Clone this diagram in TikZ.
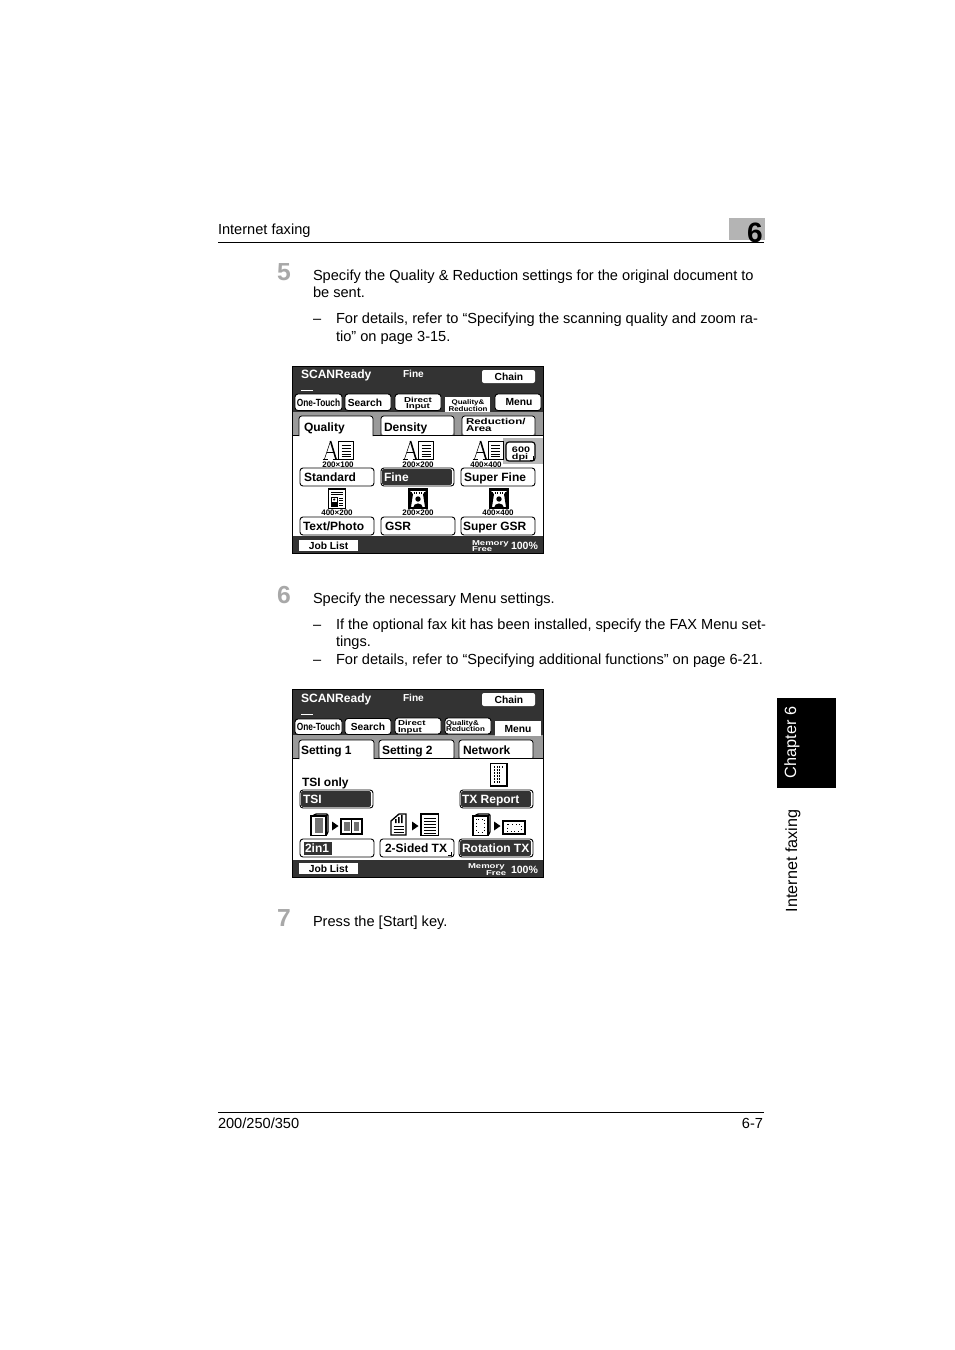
\documentclass[tikz,border=0pt]{standalone}
\usepackage{fontspec}
\usepackage{graphicx}
\setmainfont{Liberation Sans}
\definecolor{panel}{HTML}{333333}
\definecolor{strip}{HTML}{9A9A9A}
\definecolor{numgray}{HTML}{A8A8A8}
\definecolor{tabgray}{HTML}{B4B4B4}
\tikzset{
  txt/.style={anchor=base west,inner sep=0pt,outer sep=0pt},
  txtc/.style={anchor=base,inner sep=0pt,outer sep=0pt},
  txte/.style={anchor=base east,inner sep=0pt,outer sep=0pt},
  btn/.style={draw=black,line width=.7pt,fill=white,rounded corners=2.2pt},
  ico/.style={draw=black,line width=.6pt,fill=white},
  icot/.style={draw=black,line width=1pt,fill=white}
}
% px sized fonts (1 px = .75 pt)
\newcommand\body[1]{\fontsize{10.95}{12}\selectfont #1}
\newcommand\ui[1]{\fontsize{9}{10}\selectfont\bfseries #1}
\newcommand\uis[1]{\fontsize{7.7}{8}\selectfont\bfseries #1}
\newcommand\wide[2]{\fontsize{#1}{#1}\selectfont\bfseries\scalebox{1.35}[1]{#2}}
\newcommand\res[1]{\fontsize{6}{6}\selectfont\bfseries #1}
% dark button: black outline, light gap, dark face
\newcommand\dkbtn[4]{%
  \draw[btn] (#1,#2) rectangle (#3,#4);
  \fill[panel,rounded corners=1pt] (#1+1.2,#2+1.2) rectangle (#3-2.2,#4-1.2);
}
% icons
\newcommand\Aicon[3]{% x of A, x of doc, top y
  \draw[black,line width=.45pt] (#1+1,#3+19) -- (#1+7,#3+1);
  \draw[black,line width=1.2pt] (#1+7,#3+1) -- (#1+12.5,#3+19);
  \draw[black,line width=.45pt] (#1+3.5,#3+12) -- (#1+10.5,#3+12);
  \draw[black,line width=.6pt] (#1-1,#3+19.5) -- (#1+4,#3+19.5) (#1+9,#3+19.5) -- (#1+14.5,#3+19.5);
  \draw[ico] (#2,#3+1) rectangle (#2+15,#3+19);
  \fill[black] (#2,#3+.5) rectangle (#2+15,#3+2.2);
  \foreach \k in {5,8,11,14,16.5}{\draw[black,line width=.5pt] (#2+3,#3+\k) -- (#2+12,#3+\k);}
}
\newcommand\photo[2]{% x, top y
  \draw[icot] (#1,#2) rectangle (#1+18,#2+19);
  \fill[black] (#1,#2) rectangle (#1+18,#2+2);
  \fill[black] (#1+1,#2+2) -- (#1+4,#2+5) -- (#1+2,#2+18) -- (#1+1,#2+18) -- cycle;
  \fill[black] (#1+17,#2+2) -- (#1+14,#2+5) -- (#1+16,#2+18) -- (#1+17,#2+18) -- cycle;
  \draw[black,line width=.9pt,densely dotted] (#1+2,#2+4) -- (#1+16,#2+4);
  \fill[black] (#1+9,#2+10) circle (2.7);
  \fill[black] (#1+4,#2+19) .. controls (#1+4,#2+12.5) and (#1+14,#2+12.5) .. (#1+14,#2+19) -- cycle;
}
\newcommand\arr[2]{\fill[black] (#1,#2-4.5) -- (#1+6.5,#2) -- (#1,#2+4.5) -- cycle;}
\begin{document}
\begin{tikzpicture}[x=.75pt,y=-.75pt]
\useasboundingbox (0,0) rectangle (954,1350);
\fill[white] (0,0) rectangle (954,1350);
% ---------- header
\fill[tabgray] (729,218) rectangle (765,240);
\node[txt] (hdr) at (218,234) {\body{Internet faxing}};
\node[txtc] (chap) at (755,242) {\fontsize{21}{21}\selectfont\bfseries 6};
\draw[black,line width=.75pt] (218,242.5) -- (764,242.5);
% ---------- body text
\node[txt,text=numgray] (n5) at (277,280) {\fontsize{18.5}{20}\selectfont\bfseries 5};
\node[txt] (a1) at (313,280) {\body{Specify the Quality \& Reduction settings for the original document to}};
\node[txt] (a2) at (313,297) {\body{be sent.}};
\node[txt] (a3) at (313,323) {\body{–}};
\node[txt] (a4) at (336,323) {\body{For details, refer to “Specifying the scanning quality and zoom ra-}};
\node[txt] (a5) at (336,341) {\body{tio” on page 3-15.}};
\node[txt,text=numgray] (n6) at (277,603) {\fontsize{18.5}{20}\selectfont\bfseries 6};
\node[txt] (b1) at (313,603) {\body{Specify the necessary Menu settings.}};
\node[txt] (b2) at (313,629) {\body{–}};
\node[txt] (b3) at (336,629) {\body{If the optional fax kit has been installed, specify the FAX Menu set-}};
\node[txt] (b4) at (336,646) {\body{tings.}};
\node[txt] (b5) at (313,664) {\body{–}};
\node[txt] (b6) at (336,664) {\body{For details, refer to “Specifying additional functions” on page 6-21.}};
\node[txt,text=numgray] (n7) at (277,926) {\fontsize{18.5}{20}\selectfont\bfseries 7};
\node[txt] (c1) at (313,926) {\body{Press the [Start] key.}};
% ---------- footer
\draw[black,line width=.75pt] (218,1112.5) -- (764,1112.5);
\node[txt] (f1) at (218,1128) {\body{200/250/350}};
\node[txte] (f2) at (763,1128) {\body{6-7}};
% ---------- side tab
\fill[black] (777,698) rectangle (836,788);
\node[rotate=90,text=white,inner sep=0pt] (s1) at (792,742.5) {\fontsize{12.2}{13}\selectfont Chapter 6};
\node[rotate=90,text=black,inner sep=0pt] (s2) at (793,861) {\fontsize{12.1}{13}\selectfont Internet faxing};

% ========== PANEL 1
\fill[white] (293,367) rectangle (543,553);
\fill[panel] (293,367) rectangle (543,412);
\fill[strip] (293,412) rectangle (543,435);
\fill[panel] (293,536) rectangle (543,553);
\node[txt,text=white] (p1t) at (301,378) {\fontsize{9.05}{10}\selectfont\bfseries SCANReady};
\node[txt,text=white] (p1f) at (403,377) {\fontsize{7.6}{8}\selectfont\bfseries Fine};
\fill[white] (301,389.6) rectangle (313,390.8);
\draw[fill=white,draw=none,rounded corners=1.5pt] (482,370) rectangle (535,383);
\node[txtc] (p1c) at (509,380) {\uis{Chain}};
\draw[btn] (295,394) rectangle (342,410.5);
\node[txtc] (p1o) at (318.5,406) {\fontsize{7.8}{8}\selectfont\bfseries\scalebox{.8}[1]{One-Touch}};
\draw[btn] (345,394) rectangle (391,410.5);
\node[txtc] (p1s) at (365,406) {\uis{Search}};
\draw[btn] (395,394) rectangle (441,410.5);
\node[txtc] (p1d1) at (418,402) {\wide{5.4}{Direct}};
\node[txtc] (p1d2) at (418,408) {\wide{5.4}{Input}};
\fill[white] (445,397) rectangle (490,412);
\node[txtc] (p1q1) at (468,404) {\fontsize{5}{6}\selectfont\bfseries\scalebox{1.2}[1]{Quality\&}};
\node[txtc] (p1q2) at (468,411) {\fontsize{5.2}{6}\selectfont\bfseries\scalebox{1.15}[1]{Reduction}};
\draw[btn] (495,394) rectangle (541,410.5);
\node[txtc] (p1m) at (519,405) {\uis{Menu}};
% tabs
\fill[white,rounded corners=2pt] (299,416) rectangle (373,437);
\draw[black,line width=.6pt,rounded corners=2pt] (299,436) -- (299,416) -- (373,416) -- (373,436);
\fill[white,rounded corners=2pt] (381,416) rectangle (454,435);
\draw[black,line width=.6pt,rounded corners=2pt] (381,435) -- (381,416) -- (454,416) -- (454,435);
\fill[white,rounded corners=2pt] (462,416) rectangle (535,435);
\draw[black,line width=.6pt,rounded corners=2pt] (462,435) -- (462,416) -- (535,416) -- (535,435);
\draw[black,line width=.6pt] (293,435) -- (299,435) (373,435.2) -- (543,435.2);
\node[txt] (p1tq) at (304,431) {\ui{Quality}};
\node[txt] (p1td) at (384,431) {\ui{Density}};
\node[txt] (p1tr1) at (466,424.5) {\wide{6.4}{Reduction/}};
\node[txt] (p1tr2) at (466,431.5) {\wide{6.4}{Area}};
% 600 dpi
\fill[strip!70!white] (503,438) rectangle (543,464);
\draw[btn,line width=.9pt] (506,442) rectangle (535,461);
\node[txtc] (p1dpi1) at (521,452) {\wide{6}{600}};
\node[txtc] (p1dpi2) at (520,459) {\wide{6}{dpi}};
\draw[black,line width=.5pt] (533,456) -- (533,460) -- (530,460);
% icons row 1
\Aicon{323.5}{338.5}{440}
\Aicon{403.5}{418.5}{440}
\Aicon{473.5}{488}{440}
\node[txtc] (p1r1) at (338,467) {\res{200×100}};
\node[txtc] (p1r2) at (418,467) {\res{200×200}};
\node[txtc] (p1r3) at (486,467) {\res{400×400}};
% row 1 buttons
\draw[btn] (300,468) rectangle (374,486);
\node[txt] (p1b1) at (304,481) {\ui{Standard}};
\dkbtn{381}{468}{454}{486}
\node[txt,text=white] (p1b2) at (384,481) {\ui{Fine}};
\draw[btn] (461,468) rectangle (535,486);
\node[txt] (p1b3) at (464,481) {\ui{Super Fine}};
% icons row 2
\draw[icot] (328.5,489) rectangle (345.5,508.5);
\foreach \k in {492,494.5}{\draw[black,line width=.5pt] (331,\k) -- (343,\k);}
\draw[black,line width=.5pt,fill=white] (331,497) rectangle (337.5,506.5);
\fill[black] (334.2,499.5) circle (1.2);
\fill[black] (332,506) rectangle (336.5,501.5);
\foreach \k in {498,500.5,503,505.5}{\draw[black,line width=.5pt] (339,\k) -- (343,\k);}
\photo{409}{489}
\photo{490}{489}
\node[txtc] (p1r4) at (337,515) {\res{400×200}};
\node[txtc] (p1r5) at (418,515) {\res{200×200}};
\node[txtc] (p1r6) at (498,515) {\res{400×400}};
% row 2 buttons
\draw[btn] (300,517) rectangle (374,535);
\node[txt] (p1b4) at (303,530) {\ui{Text/Photo}};
\draw[btn] (381,517) rectangle (455,535);
\node[txt] (p1b5) at (385,530) {\ui{GSR}};
\draw[btn] (461,517) rectangle (535,535);
\node[txt] (p1b6) at (463,530) {\ui{Super GSR}};
% status bar
\fill[white] (299,540) rectangle (358,550.5);
\node[txtc] (p1j) at (328.5,549) {\uis{Job List}};
\node[txt,text=white] (p1mem1) at (472,545) {\wide{5.3}{Memory}};
\node[txt,text=white] (p1mem2) at (472,551) {\wide{5.3}{Free}};
\node[txt,text=white] (p1pc) at (511,549) {\fontsize{7.9}{8}\selectfont\bfseries 100\%};
\draw[black,line width=1.2pt] (292.6,366.6) rectangle (543.6,553.6);

% ========== PANEL 2
\fill[white] (293,690) rectangle (543,877);
\fill[panel] (293,690) rectangle (543,735);
\fill[strip] (293,735) rectangle (543,758);
\fill[panel] (293,860) rectangle (543,877);
\node[txt,text=white] (p2t) at (301,702) {\fontsize{9.05}{10}\selectfont\bfseries SCANReady};
\node[txt,text=white] (p2f) at (403,701) {\fontsize{7.6}{8}\selectfont\bfseries Fine};
\fill[white] (301,713.6) rectangle (313,714.8);
\draw[fill=white,draw=none,rounded corners=1.5pt] (482,693) rectangle (535,706);
\node[txtc] (p2c) at (509,703) {\uis{Chain}};
\draw[btn] (295,719) rectangle (342,734.5);
\node[txtc] (p2o) at (318.5,730) {\fontsize{7.8}{8}\selectfont\bfseries\scalebox{.8}[1]{One-Touch}};
\draw[btn] (345,718.5) rectangle (391,734.5);
\node[txtc] (p2s) at (368,730.5) {\uis{Search}};
\draw[btn] (395,718) rectangle (441,734);
\node[txt] (p2d1) at (398,725) {\wide{5.4}{Direct}};
\node[txt] (p2d2) at (398,732.5) {\wide{5.4}{Input}};
\draw[btn] (445,718) rectangle (491,734);
\node[txt] (p2q1) at (446,725) {\fontsize{5.2}{6}\selectfont\bfseries\scalebox{1.15}[1]{Quality\&}};
\node[txt] (p2q2) at (446,731.5) {\fontsize{5.2}{6}\selectfont\bfseries\scalebox{1.15}[1]{Reduction}};
\fill[white] (495,721) rectangle (541,736);
\node[txtc] (p2m) at (518,732) {\uis{Menu}};
% tabs
\fill[white,rounded corners=2pt] (299,740) rectangle (374,760);
\draw[black,line width=.6pt,rounded corners=2pt] (299,759) -- (299,740) -- (374,740) -- (374,759);
\fill[white,rounded corners=2pt] (379,740) rectangle (454,758.5);
\draw[black,line width=.6pt,rounded corners=2pt] (379,758.5) -- (379,740) -- (454,740) -- (454,758.5);
\fill[white,rounded corners=2pt] (459,740) rectangle (533,758.5);
\draw[black,line width=.6pt,rounded corners=2pt] (459,758.5) -- (459,740) -- (533,740) -- (533,758.5);
\draw[black,line width=.6pt] (293,758.5) -- (299,758.5) (374,758.5) -- (543,758.5);
\node[txt] (p2t1) at (301,754) {\ui{Setting 1}};
\node[txt] (p2t2) at (382,754) {\ui{Setting 2}};
\node[txt] (p2t3) at (463,754) {\ui{Network}};
% TSI
\node[txt] (p2tsi) at (302,786) {\ui{TSI only}};
\draw[icot] (490.5,763.5) rectangle (507,786);
\foreach \k in {767,770,...,783}{\draw[black,line width=.9pt,densely dotted] (494,\k) -- (500,\k);}
\draw[black,line width=.9pt,densely dotted] (502,767) -- (504,767);
\dkbtn{300}{790}{373}{808}
\node[txt,text=white] (p2b1) at (303,803) {\ui{TSI}};
\dkbtn{460}{790}{533}{808}
\node[txt,text=white] (p2b2) at (462,803) {\ui{TX Report}};
% icons row
\draw[icot,rounded corners=1pt] (313,816) -- (315,814) -- (328,814) -- (328,833) -- (326,835);
\draw[icot] (311,816) rectangle (326,835.5);
\fill[black!55] (315,818) rectangle (323,833);
\arr{332}{826}
\draw[black,line width=1.4pt,fill=white] (341,819) rectangle (362,834);
\fill[black!55] (344,822) rectangle (349.5,831);
\fill[black!55] (353.5,822) rectangle (359,831);
\draw[black,line width=.5pt] (351.5,820) -- (351.5,833);
\draw[icot] (391,821) -- (399,814) -- (406,814) -- (406,835) -- (391,835) -- cycle;
\fill[black] (395,819) rectangle (396.5,823) (398,817) rectangle (399.5,823) (401,815) rectangle (402.5,823);
\foreach \k in {826,829,832}{\draw[black,line width=.5pt] (393.5,\k) -- (403.5,\k);}
\arr{412}{826}
\draw[black,line width=1.2pt,fill=white] (421,814) rectangle (438.5,835.5);
\foreach \k in {818,821,...,833}{\draw[black,line width=.6pt] (424,\k) -- (435.5,\k);}
\draw[icot,rounded corners=1pt] (475,816) -- (477,814) -- (490,814) -- (490,833) -- (488,835);
\draw[icot] (473,816) rectangle (488,835.5);
\draw[black,line width=.7pt,dotted] (476.5,819) rectangle (484.5,832);
\arr{494}{826}
\draw[black,line width=1.2pt,fill=white] (503,821) rectangle (525,834);
\draw[black,line width=.7pt,dotted] (507,824) rectangle (521,831);
% buttons
\draw[btn] (300,839) rectangle (374,857);
\fill[panel] (304,842) rectangle (332,855);
\node[txt,text=white] (p2b3) at (305,852) {\ui{2in1}};
\draw[btn] (380,839) rectangle (454,857);
\node[txt] (p2b4) at (385,852) {\ui{2-Sided TX}};
\draw[black,line width=.5pt] (451,852) -- (451,855.5) -- (448,855.5);
\dkbtn{459}{839}{533}{857}
\node[txt,text=white] (p2b5) at (462,852) {\ui{Rotation TX}};
% status bar
\fill[white] (299,863) rectangle (358,873.5);
\node[txtc] (p2j) at (328.5,872) {\uis{Job List}};
\node[txt,text=white] (p2mem1) at (468,868) {\wide{5.3}{Memory}};
\node[txt,text=white] (p2mem2) at (486,875) {\wide{5.3}{Free}};
\node[txt,text=white] (p2pc) at (511,873) {\fontsize{7.9}{8}\selectfont\bfseries 100\%};
\draw[black,line width=1.2pt] (292.6,689.6) rectangle (543.6,877.6);
\end{tikzpicture}
\end{document}
